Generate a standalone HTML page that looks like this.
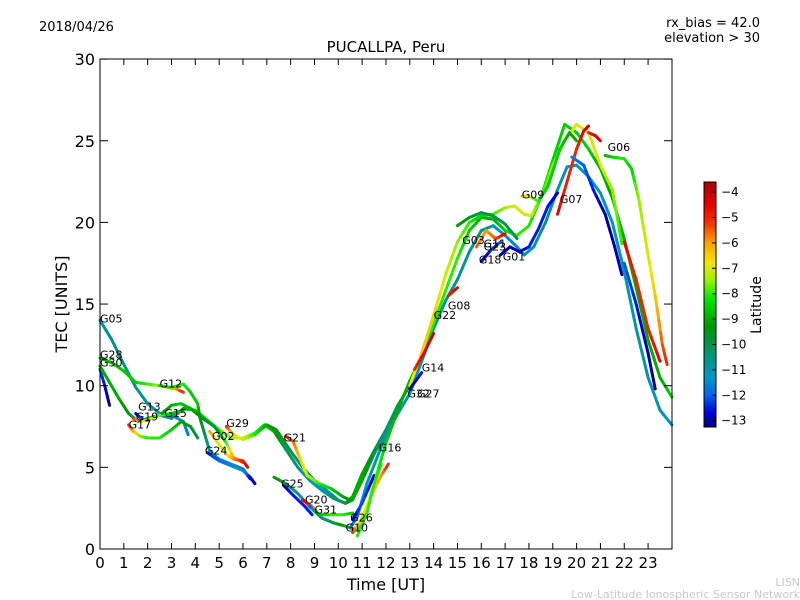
<!DOCTYPE html>
<html><head><meta charset="utf-8"><style>
body{margin:0;background:#fff;}
svg{display:block;font-family:"DejaVu Sans","Liberation Sans",sans-serif;}
</style></head><body>
<svg id="chart" width="800" height="600" viewBox="0 0 800 600">
<rect width="800" height="600" fill="#fff"/>
<text x="39" y="31" font-size="13">2018/04/26</text>
<text x="386" y="52" font-size="15" text-anchor="middle">PUCALLPA, Peru</text>
<text x="760" y="27" font-size="13" text-anchor="end">rx_bias = 42.0</text>
<text x="760" y="42" font-size="13" text-anchor="end">elevation &gt; 30</text>
<g id="tracks"></g>
<g id="labels"></g>
<rect x="100" y="59" width="572" height="490" fill="none" stroke="#000" stroke-width="1"/>
<g id="xaxis"></g>
<g id="yaxis"></g>
<text x="386" y="590" font-size="16" text-anchor="middle">Time [UT]</text>
<text transform="translate(67,304) rotate(-90)" font-size="16" text-anchor="middle">TEC [UNITS]</text>
<g id="cbar"></g>
<text transform="translate(761,305) rotate(-90)" font-size="14" text-anchor="middle">Latitude</text>
<text x="800" y="586" font-size="11" fill="#c8c8c8" text-anchor="end">LISN</text>
<text x="800" y="598" font-size="11" fill="#c8c8c8" text-anchor="end">Low-Latitude Ionospheric Sensor Network</text>
</svg>
<script>
const xTicks=[0,1,2,3,4,5,6,7,8,9,10,11,12,13,14,15,16,17,18,19,20,21,22,23];
const yTicks=[0,5,10,15,20,25,30];
const cbTicks=[-4,-5,-6,-7,-8,-9,-10,-11,-12,-13];
const latMin=-13.25, latMax=-3.6;
const trackNames=["G05","G28","G30","T4","G12","G17","G13","G19","G15","G29","G02","G24","G21","G25","T15","G20","G31","G16","G10","G26","TA","G22","G09","G06","G07","TR1","G01","TB1","TB2","TR2","G18","G03","G11","G08","G14","TB3"];
const trackPoints=[
[[0,14,-10.8],[0.5,12.8,-10.6],[1,11.3,-10.4],[1.5,9.9,-10.5],[2,8.9,-10.7],[2.5,8.3,-11],[3,8.2,-11.2],[3.5,7.8,-11.5],[3.7,7.0,-11.6]],
[[0,11.7,-9],[0.5,11.4,-8.8],[1,10.9,-8.6],[1.5,10.2,-8.5],[2,10.1,-8],[2.5,10.0,-7.5],[2.8,9.9,-6.5],[3.2,9.8,-6],[3.5,9.6,-5]],
[[0,11.0,-12],[0.2,10.0,-12.6],[0.4,8.8,-13.2]],
[[0,11.2,-9],[0.4,10.2,-9],[0.8,9.2,-9],[1.2,8.3,-9.5],[1.6,7.8,-10],[2,8.0,-10.5],[2.5,8.2,-10.7],[3,8.0,-10.5],[3.5,8.6,-9.5],[4,8.5,-8.5],[4.5,7.9,-8.5],[5,7.3,-8],[5.5,6.8,-7.5],[6,6.8,-7],[6.5,7.1,-8],[6.9,7.6,-8.5],[7.3,7.2,-9],[7.8,6.1,-10],[8.3,5.0,-10.5],[8.8,4.2,-11],[9.3,3.6,-11],[9.8,3.1,-10],[10.3,2.8,-9.5],[10.6,3.2,-9],[11,4.6,-9],[11.5,6.0,-9.5],[12,7.3,-10],[12.5,8.8,-10]],
[[2.5,10.0,-8.5],[3,9.9,-8],[3.5,10.1,-8],[3.8,9.6,-8.5],[4.1,8.9,-8.5],[4.2,8.0,-9.5],[4.4,7.0,-10],[4.6,6.0,-11],[5,5.5,-11.5],[5.5,5.2,-11.5],[6,4.9,-12],[6.3,4.3,-13]],
[[1.2,7.6,-5],[1.4,7.2,-6],[1.7,6.9,-7.5],[2,6.8,-8],[2.5,6.8,-8],[3,7.3,-8.5],[3.4,7.8,-9],[3.8,7.5,-9.5],[4.1,6.8,-10]],
[[1.5,8.3,-13],[1.8,7.9,-12]],
[[1.4,8.0,-5],[1.7,7.8,-6.5],[2,7.9,-7],[2.5,8.2,-7.5],[3,8.3,-8.5],[3.5,8.5,-9]],
[[2.6,8.3,-9.5],[3,8.8,-9],[3.4,8.9,-8.5],[3.8,8.6,-9],[4.3,8.0,-9.5],[4.8,7.5,-10],[5.3,6.5,-8],[5.6,5.6,-6],[6,5.3,-5]],
[[5.3,7.5,-5],[5.6,7.0,-6.5],[6,6.7,-7],[6.5,7.0,-8],[7,7.6,-9],[7.4,7.3,-9.5],[8,6.0,-10],[8.5,5.0,-10.5],[9,4.2,-11],[9.5,3.6,-11],[10,3.0,-10.5],[10.3,2.8,-10],[10.6,3.0,-9],[11,4.2,-9],[11.5,5.8,-10],[12,7.2,-10.5],[12.5,8.8,-10],[13,10,-9.5]],
[[4.6,7.2,-6],[5,6.4,-7],[5.3,5.8,-7],[5.6,5.5,-6],[6,5.4,-5],[6.2,5.0,-4.5]],
[[4.5,5.9,-12.5],[5,5.4,-12],[5.5,5.1,-11.5],[6,4.8,-11],[6.3,4.4,-12.5],[6.5,4.0,-13]],
[[7.8,6.9,-4.5],[8.1,6.6,-5.5],[8.4,5.5,-6.5],[8.7,4.5,-7],[9.2,4.0,-8],[9.7,3.7,-8.5],[10.2,3.2,-9],[10.5,3.0,-9.5]],
[[7.7,3.9,-13],[8.1,3.3,-12.5],[8.6,2.6,-12.5],[8.9,2.1,-12.5]],
[[7.3,4.4,-9],[7.8,4.0,-10],[8.3,3.4,-10.5],[8.8,2.6,-11],[9.3,1.9,-10.5],[9.8,1.6,-10],[10.3,1.4,-9],[10.7,1.2,-8.5],[11,1.4,-8],[11.4,3.5,-8],[11.8,5.2,-8]],
[[8.5,3.0,-4.5],[8.8,2.7,-5],[9.1,2.3,-6]],
[[8.8,2.6,-12.5],[9.2,2.1,-9],[9.7,2.1,-8],[10.2,2.1,-8],[10.6,2.2,-8.5]],
[[10.5,1.3,-12],[10.8,2.0,-11.5],[11.2,4.0,-11.2],[11.6,5.5,-11],[12,7.0,-11],[12.5,8.3,-11],[13,9.5,-11],[13.5,11.5,-11],[14,13.5,-10.5],[14.5,15.2,-10.5],[15,16.5,-10.8],[15.5,18.2,-10.8],[16,19.5,-10.5],[16.5,19.8,-11],[17,19.2,-11.5],[17.5,18.5,-11.5],[17.8,18.0,-11.5],[18.2,18.5,-11],[18.7,20,-10.5],[19.2,22,-11],[19.6,23.4,-11.3],[20,23.5,-11.3],[20.5,22.8,-11.3],[21,21.8,-11.2],[21.5,20,-11],[22,17,-11],[22.5,13.5,-11],[23,10.5,-11],[23.5,8.5,-11],[24,7.6,-11.5]],
[[10.6,1.0,-5],[10.9,1.6,-6.5],[11.3,3.0,-7],[11.8,4.5,-6],[12.1,5.2,-5]],
[[10.6,1.8,-13],[11,2.8,-12],[11.5,4.5,-13]],
[[10.8,0.8,-8],[11.2,2.2,-8],[11.6,4.5,-8],[12,6.5,-8.5],[12.5,8.5,-9],[13,10.3,-9],[13.5,11.8,-8.5],[14,13.8,-8],[14.5,15.8,-8],[15,17.8,-8],[15.5,19.5,-8.5],[16,20.3,-9],[16.5,20.2,-9],[17,19.5,-8.5],[17.5,19.2,-8],[18,19.8,-8],[18.5,21.5,-8.5],[19,23.8,-8.5],[19.5,26,-8.5],[20,25.5,-8.5],[20.5,24.5,-8.5],[21,23.3,-9],[21.5,21.5,-9],[22,19,-9],[22.5,16,-9],[23,12.8,-9],[23.5,10.5,-9],[24,9.3,-8.5]],
[[13,10,-7],[13.5,12,-6.5],[14,14.3,-6.5],[14.5,16.8,-7],[15,18.8,-7.5],[15.5,20,-8],[16,20.4,-8.5],[16.5,20.5,-8],[17,20.9,-7.5],[17.4,21.0,-7],[17.8,20.5,-7],[18.1,20.4,-7],[18.5,21.5,-8],[19,23.5,-7.5],[19.5,25,-7],[20,26,-7],[20.5,25.5,-7],[21,23.5,-7],[21.5,22,-7.5],[21.9,18.7,-8]],
[[17.7,21.6,-6],[18,21.6,-7],[18.4,21.3,-8],[18.8,22.2,-8.5],[19.3,24.5,-8.5],[19.7,25.5,-9],[20,25,-9]],
[[21.2,24.1,-9],[21.5,24.0,-8.5],[22,23.9,-8],[22.3,23.3,-8.5],[22.6,21.5,-7.5],[23,18,-7],[23.3,15.5,-6.5],[23.6,12.5,-5.5],[23.8,11.3,-5]],
[[19.2,20.5,-4.5],[19.6,22.5,-5],[20,24.5,-5],[20.3,25.6,-4.5],[20.5,25.9,-4]],
[[20.5,25.5,-5],[20.8,25.3,-4.5],[21,25,-4.5]],
[[16.8,18,-13],[17.2,18.5,-13],[17.6,18.2,-13],[18,18.5,-12.5],[18.4,19.6,-12.5],[18.8,21,-12.5],[19.2,21.8,-13]],
[[19.8,24,-11.5],[20.3,23.5,-12],[20.7,22,-12.5],[21.2,20.5,-13],[21.6,18.5,-13],[21.9,16.8,-13]],
[[22,17.5,-12],[22.5,15,-12.5],[23,12,-13],[23.3,9.8,-13.2]],
[[22,18.8,-4.5],[22.5,16.5,-5],[23,13.5,-5],[23.5,11.5,-4.5]],
[[16,17.6,-13],[16.4,18.3,-12.5],[16.8,18.8,-12]],
[[15,19.8,-9.5],[15.5,20.3,-9.5],[16,20.6,-10],[16.5,20.4,-10],[17,19.9,-10],[17.5,19.0,-10]],
[[15.8,18.5,-5.5],[16.2,19.5,-6],[16.6,19.0,-5.5],[17,19.3,-4.5]],
[[14.6,15.5,-5],[15,16,-4.5]],
[[13.2,11.0,-5],[13.6,12,-4.5],[14,13.2,-4]],
[[13,9.8,-13],[13.5,10.8,-12.5]]
];
const labelNames=["G05","G28","G30","G12","G13","G19","G17","G15","G29","G02","G24","G21","G25","G20","G31","G26","G10","G16","G32","G27","G14","G22","G08","G03","G11","G23","G18","G01","G09","G07","G06"];
const labelHours=[0,0,0,2.5,1.6,1.5,1.2,2.7,5.3,4.7,4.4,7.7,7.6,8.6,9.0,10.5,10.3,11.7,12.9,13.3,13.5,14.0,14.6,15.2,16.1,16.1,15.9,16.9,17.7,19.3,21.3];
const labelTecs=[14.0,11.8,11.3,10.0,8.6,8.0,7.5,8.2,7.6,6.8,5.9,6.7,3.9,2.9,2.3,1.8,1.2,6.1,9.4,9.4,11.0,14.2,14.8,18.8,18.6,18.4,17.6,17.8,21.6,21.3,24.5];

const NS="http://www.w3.org/2000/svg";
function X(h){return 100+h*23.83;}
function Y(v){return 549-v*16.33;}
const cStops=[[-3.6,[170,0,0]],[-4.5,[230,0,0]],[-5.3,[240,60,0]],[-6,[255,160,0]],[-6.8,[240,230,0]],[-7.5,[150,240,0]],[-8.2,[0,230,0]],[-9.3,[0,150,0]],[-10.3,[0,150,110]],[-11.3,[0,150,200]],[-12.0,[0,100,230]],[-12.7,[0,0,220]],[-13.25,[0,0,130]]];
function latColor(l){
 if(l>=cStops[0][0])return 'rgb('+cStops[0][1].join(',')+')';
 for(let i=0;i<cStops.length-1;i++){const a=cStops[i],b=cStops[i+1];
  if(l<=a[0]&&l>=b[0]){const t=(a[0]-l)/(a[0]-b[0]);return 'rgb('+a[1].map((c,k)=>Math.round(c+(b[1][k]-c)*t)).join(',')+')';}}
 return 'rgb('+cStops[cStops.length-1][1].join(',')+')';}
function mk(tag,attrs,parent){const e=document.createElementNS(NS,tag);for(const k in attrs)e.setAttribute(k,attrs[k]);parent.appendChild(e);return e;}

const tg=document.getElementById('tracks');
trackPoints.forEach((pts,i)=>{
 const g=mk('g',{},tg);
 
 
 for(let j=0;j<pts.length-1;j++){
  const a=pts[j],b=pts[j+1];
  const n=4;
  for(let k=0;k<n;k++){
   const t0=k/n,t1=(k+1)/n,tm=(t0+t1)/2;
   const s=mk('line',{x1:X(a[0]+(b[0]-a[0])*t0),y1:Y(a[1]+(b[1]-a[1])*t0),x2:X(a[0]+(b[0]-a[0])*t1),y2:Y(a[1]+(b[1]-a[1])*t1),stroke:latColor(a[2]+(b[2]-a[2])*tm),'stroke-width':3,'stroke-linecap':'round'},g);
   
   
  }
 }
});
const lg=document.getElementById('labels');
labelNames.forEach((n,i)=>{
 const t=mk('text',{x:X(labelHours[i]),y:Y(labelTecs[i])+2,'font-size':11},lg);
 t.textContent=n;
 
 
});
const xg=document.getElementById('xaxis');
xTicks.forEach(h=>{
 const l1=mk('line',{x1:X(h),y1:549,x2:X(h),y2:543,stroke:'#000'},xg);
 
 
 const l2=mk('line',{x1:X(h),y1:59,x2:X(h),y2:65,stroke:'#000'},xg);
 
 
 const t=mk('text',{x:X(h),y:568,'font-size':15,'text-anchor':'middle'},xg);
 t.textContent=h;
 
 
});
const yg=document.getElementById('yaxis');
yTicks.forEach(v=>{
 const l1=mk('line',{x1:100,y1:Y(v),x2:108,y2:Y(v),stroke:'#000'},yg);
 
 
 const l2=mk('line',{x1:664,y1:Y(v),x2:672,y2:Y(v),stroke:'#000'},yg);
 
 
 const t=mk('text',{x:95,y:Y(v)+6,'font-size':16,'text-anchor':'end'},yg);
 t.textContent=v;
 
 
});
const cg=document.getElementById('cbar');
const cTop=182,cBot=427;
for(let py=cTop;py<cBot;py++){
 const lat=latMax-(py-cTop+0.5)/(cBot-cTop)*(latMax-latMin);
 const r=mk('rect',{x:704,y:py,width:12,height:1.2,fill:latColor(lat)},cg);
 
 
}
const cf=mk('rect',{x:704,y:cTop,width:12,height:cBot-cTop,fill:'none',stroke:'#000'},cg);


cbTicks.forEach(v=>{
 const py=cTop+(latMax-v)/(latMax-latMin)*(cBot-cTop);
 const l=mk('line',{x1:712,y1:py,x2:716,y2:py,stroke:'#000'},cg);
 
 
 const t=mk('text',{x:721,y:py+4,'font-size':12},cg);
 t.textContent='\u2212'+Math.abs(v);
 
 
});
</script>
</body></html>
